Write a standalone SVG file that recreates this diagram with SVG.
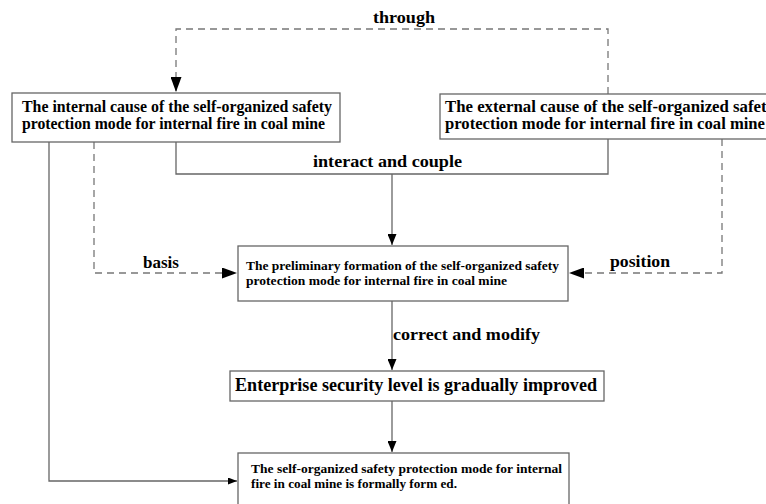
<svg xmlns="http://www.w3.org/2000/svg" width="766" height="504" viewBox="0 0 766 504">
<defs>
<marker id="ah" markerWidth="15" markerHeight="11" refX="15" refY="5.5" orient="auto" markerUnits="userSpaceOnUse">
<path d="M0,0 L15,5.5 L0,11 Z" fill="#000"/>
</marker>
<marker id="ahs" markerWidth="11" markerHeight="9" refX="11" refY="4.5" orient="auto" markerUnits="userSpaceOnUse">
<path d="M0,0 L11,4.5 L0,9 Z" fill="#000"/>
</marker>
<marker id="ahx" markerWidth="9" markerHeight="7" refX="9" refY="3.5" orient="auto" markerUnits="userSpaceOnUse">
<path d="M0,0 L9,3.5 L0,7 Z" fill="#000"/>
</marker>
<style>
.box{fill:#fff;stroke:#666;stroke-width:1.3}
.ln{fill:none;stroke:#666;stroke-width:1.3}
.dl{fill:none;stroke:#777;stroke-width:1.3;stroke-dasharray:7 5}
text{font-family:"Liberation Serif","Times New Roman",serif;font-weight:bold;fill:#000}
.t15{font-size:16px}
.t13{font-size:13.5px}
.t12{font-size:12.5px}
.t17{font-size:18px}
.lb{font-size:17px}
</style>
</defs>
<rect width="766" height="504" fill="#fff"/>
<g id="connectors">
<path class="dl" d="M608,94 V29 H176 V92" marker-end="url(#ah)"/>
<path class="ln" d="M176,142 V174 H608 V139"/>
<path class="ln" d="M392,174 V245" marker-end="url(#ahs)"/>
<path class="dl" d="M94,142 V273 H237" marker-end="url(#ah)"/>
<path class="dl" d="M722,139 V273 H569" marker-end="url(#ah)"/>
<path class="ln" d="M392,301 V370" marker-end="url(#ahs)"/>
<path class="ln" d="M392,401 V452" marker-end="url(#ahs)"/>
<path class="ln" d="M49,142 V481 H237" marker-end="url(#ahx)"/>
<text class="lb" x="373" y="23" textLength="62" lengthAdjust="spacingAndGlyphs">through</text>
<text class="lb" x="313" y="167" textLength="149" lengthAdjust="spacingAndGlyphs">interact and couple</text>
<text class="lb" x="143" y="268" textLength="36" lengthAdjust="spacingAndGlyphs">basis</text>
<text class="lb" x="610" y="267" textLength="60" lengthAdjust="spacingAndGlyphs">position</text>
<text class="lb" x="393" y="340" textLength="147" lengthAdjust="spacingAndGlyphs">correct and modify</text>
</g>
<g id="internal-cause">
<rect class="box" x="12" y="93" width="328" height="49"/>
<text class="t15" x="22" y="112" textLength="310" lengthAdjust="spacingAndGlyphs">The internal cause of the self-organized safety</text>
<text class="t15" x="22" y="129" textLength="303" lengthAdjust="spacingAndGlyphs">protection mode for internal fire in coal mine</text>
</g>
<g id="external-cause">
<rect class="box" x="440" y="94" width="340" height="45"/>
<text class="t15" x="445" y="112" textLength="330" lengthAdjust="spacingAndGlyphs">The external cause of the self-organized safety</text>
<text class="t15" x="445" y="129" textLength="320" lengthAdjust="spacingAndGlyphs">protection mode for internal fire in coal mine</text>
</g>
<g id="preliminary-formation">
<rect class="box" x="238" y="246" width="330" height="55"/>
<text class="t13" x="246" y="270" textLength="313" lengthAdjust="spacingAndGlyphs">The preliminary formation of the self-organized safety</text>
<text class="t13" x="246" y="285" textLength="261" lengthAdjust="spacingAndGlyphs">protection mode for internal fire in coal mine</text>
</g>
<g id="security-level">
<rect class="box" x="230" y="371" width="374" height="30"/>
<text class="t17" x="235" y="391" textLength="362" lengthAdjust="spacingAndGlyphs">Enterprise security level is gradually improved</text>
</g>
<g id="formally-formed">
<rect class="box" x="238" y="453" width="331" height="60"/>
<text class="t12" x="251" y="473" textLength="311" lengthAdjust="spacingAndGlyphs">The self-organized safety protection mode for internal</text>
<text class="t12" x="251" y="487.5" textLength="206" lengthAdjust="spacingAndGlyphs">fire in coal mine is formally form ed.</text>
</g>
</svg>
